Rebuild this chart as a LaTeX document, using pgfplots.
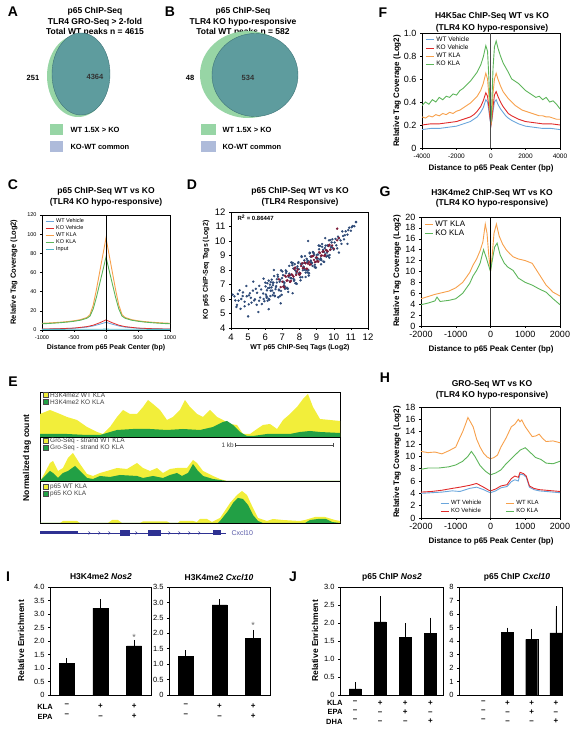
\documentclass[border=0pt]{standalone}
\usepackage{fontspec}
\setmainfont{Liberation Sans}
\usepackage{pgfplots}
\pgfplotsset{compat=1.18}
\definecolor{wtveh}{HTML}{6AA6DC}
\definecolor{koveh}{HTML}{E02A2A}
\definecolor{wtkla}{HTML}{F7A04B}
\definecolor{kokla}{HTML}{5DB55A}
\definecolor{inputc}{HTML}{4FB8C9}
\definecolor{vgreen}{HTML}{97D5A5}
\definecolor{vteal}{HTML}{5E9C9E}
\definecolor{vedge}{HTML}{3F7478}
\definecolor{vblue}{HTML}{AEBBDA}
\definecolor{eyel}{HTML}{F2EE3A}
\definecolor{egrn}{HTML}{22A045}
\definecolor{gene}{HTML}{2E3192}
\definecolor{scblue}{HTML}{2F4B78}
\definecolor{scred}{HTML}{7E1D3A}
\newcommand\fs[1]{\fontsize{#1}{#1}\selectfont}
\newcommand\tfs{\fontsize{8.5}{10.5}\selectfont\bfseries}
\pgfplotsset{
  every axis/.append style={scale only axis, anchor=south west,
    axis line style={line width=0.7pt}, tick style={black, line width=0.5pt},
    /pgf/number format/assume math mode=true, /pgf/number format/1000 sep={},
    tick align=outside, xtick pos=bottom, ytick pos=left, major tick length=2pt},
  lgd/.style={legend image code/.code={\draw[##1] (0pt,0pt) -- (8pt,0pt);}},
}
\begin{document}
\begin{tikzpicture}[x=1pt,y=1pt]
\useasboundingbox (0,0) rectangle (580,736);
% ===== A =====
\node[font=\fs{14}\bfseries] at (13,724) {A};
\node[font=\tfs, align=center] at (95,714) {p65 ChIP-Seq\\TLR4 GRO-Seq > 2-fold\\Total WT peaks n = 4615};
\fill[vgreen] (78,660) ellipse (31 and 41);
\fill[vteal, draw=vedge, line width=0.4pt] (81,662) ellipse (29 and 41);
\node[font=\fs{7.5}\bfseries] at (33,658) {251};
\node[font=\fs{7.5}\bfseries, text=black!80] at (95,659) {4364};
\fill[vgreen] (50,601) rectangle (63,612);
\node[font=\fs{7.5}\bfseries, anchor=west] at (67,606) {WT 1.5X > KO};
\fill[vblue] (50,584) rectangle (63,595);
\node[font=\fs{7.5}\bfseries, anchor=west] at (67,589) {KO-WT common};
% ===== B =====
\node[font=\fs{14}\bfseries] at (170,724) {B};
\node[font=\tfs, align=center] at (243,714) {p65 ChIP-Seq\\TLR4 KO hypo-responsive\\Total WT peaks n = 582};
\fill[vgreen] (248,661.5) ellipse (48 and 43.5);
\fill[vteal, draw=vedge, line width=0.4pt] (255,661) ellipse (43 and 41.5);
\node[font=\fs{7.5}\bfseries] at (190,658) {48};
\node[font=\fs{7.5}\bfseries, text=black!80] at (248,658) {534};
\fill[vgreen] (201,601) rectangle (216,612);
\node[font=\fs{7.5}\bfseries, anchor=west] at (219,606) {WT 1.5X > KO};
\fill[vblue] (201,584) rectangle (216,595);
\node[font=\fs{7.5}\bfseries, anchor=west] at (219,589) {KO-WT common};
% ===== C =====
\node[font=\fs{14}\bfseries] at (13,551) {C};
\node[font=\tfs, align=center] at (106,539) {p65 ChIP-Seq WT vs KO\\(TLR4 KO hypo-responsive)};
\node[font=\fs{7.5}\bfseries, rotate=90] at (14,464) {Relative Tag Coverage (Log2)};
\node[font=\fs{7}\bfseries] at (106,388) {Distance from p65 Peak Center (bp)};
\begin{axis}[at={(42pt,406pt)}, width=128pt, height=115pt, xmin=-1000, xmax=1000, ymin=0, ymax=120,
  xtick={-1000,-500,0,500,1000}, ytick={0,20,...,120}, tick label style={font=\fs{5.5}},
  lgd, legend style={draw=none, fill=none, font=\fs{5.5}, at={(0.02,0.99)}, anchor=north west, row sep=-2.5pt, inner sep=0.5pt}, legend cell align=left]
\addplot[wtveh, line width=0.8pt] coordinates {(-1000,1)(-750,1.2)(-500,1.8)(-300,3)(-200,4.2)(-100,6)(0,8)(100,6)(200,4.2)(300,3)(500,1.8)(750,1.2)(1000,1)};
\addlegendentry{WT Vehicle}
\addplot[koveh, line width=0.8pt] coordinates {(-1000,1)(-750,1.3)(-500,2)(-300,3.5)(-200,5)(-100,7.5)(0,10.5)(100,7.5)(200,5)(300,3.5)(500,2)(750,1.3)(1000,1)};
\addlegendentry{KO Vehicle}
\addplot[wtkla, line width=0.9pt] coordinates {(-1000,7)(-900,7.3)(-800,7.7)(-700,8.2)(-600,8.8)(-500,9.6)(-400,10.8)(-300,13)(-250,16)(-200,26)(-150,42)(-100,60)(-50,78)(0,96)(50,78)(100,60)(150,42)(200,26)(250,16)(300,13)(400,10.8)(500,9.6)(600,8.8)(700,8.2)(800,7.7)(900,7.3)(1000,7)};
\addlegendentry{WT KLA}
\addplot[kokla, line width=0.9pt] coordinates {(-1000,6.5)(-900,6.8)(-800,7.2)(-700,7.7)(-600,8.3)(-500,9.1)(-400,10.2)(-300,12.2)(-250,14.5)(-200,22)(-150,34)(-100,48)(-50,62)(0,76)(50,62)(100,48)(150,34)(200,22)(250,14.5)(300,12.2)(400,10.2)(500,9.1)(600,8.3)(700,7.7)(800,7.2)(900,6.8)(1000,6.5)};
\addlegendentry{KO KLA}
\addplot[inputc, line width=0.8pt] coordinates {(-1000,0.6)(-500,0.7)(0,0.9)(500,0.7)(1000,0.6)};
\addlegendentry{Input}
\addplot[black, line width=0.7pt, forget plot] coordinates {(0,0)(0,120)};
\end{axis}
% ===== D =====
\node[font=\fs{14}\bfseries] at (192,551) {D};
\node[font=\tfs, align=center] at (300,539) {p65 ChIP-Seq WT vs KO\\(TLR4 Responsive)};
\node[font=\fs{7}\bfseries, rotate=90] at (206,466) {KO p65 ChIP-Seq Tags (Log2)};
\node[font=\fs{7}\bfseries] at (300,388) {WT p65 ChIP-Seq Tags (Log2)};
\begin{axis}[at={(231pt,408pt)}, width=137pt, height=116pt, xmin=4, xmax=12, ymin=4, ymax=12,
  xtick={4,...,12}, ytick={4,...,12}, tick label style={font=\fs{9.5}}]
\addplot[only marks, mark=*, mark size=1pt, scblue, mark options={fill=scblue, draw=none}] coordinates {
(4.2,6.18)(4.32,5.45)(4.44,5.89)(4.56,5.32)(4.68,6.2)(4.8,5.81)(4.92,6.19)(5.04,5.63)(5.16,6.08)(5.28,6.58)(5.4,5.98)(5.52,6.43)(5.64,5.88)(5.76,6.66)(5.88,6.38)
(5.0,4.8)(4.5,6.6)(5.6,5.1)(4.9,6.9)(6.2,5.3)(6.5,8.0)(10.8,9.8)(9.5,10.2)(11.3,11.3)(5.3,7.2)(4.1,6.3)(5.9,7.4)(6.9,5.7)(7.6,6.4)(8.5,10.0)(10.3,9.2)
(4.6,6.0)(5.1,6.4)(5.5,5.6)(5.7,6.1)(5.95,5.85)(4.4,6.35)(4.8,5.5)(5.35,5.9)
(4.25,5.9)(4.7,6.45)(5.2,5.75)(5.45,6.7)(5.8,5.65)(5.05,6.25)(4.35,5.6)(5.65,6.9)(5.9,6.0)(6.1,6.6)(6.3,6.2)(6.45,6.95)
(10.05,9.9)(10.25,10.3)(10.45,9.8)(10.65,10.4)(10.85,10.75)(11.05,10.95)(10.15,9.7)(10.55,10.35)
(6.00,7.13)(6.08,6.19)(6.16,6.75)(6.24,5.95)(6.32,7.17)(6.40,6.58)(6.48,7.13)(6.56,6.23)(6.64,6.88)(6.72,7.67)(6.80,6.60)(6.88,7.32)(6.96,6.29)(7.04,7.64)(7.12,7.11)(7.20,7.97)(7.28,6.77)(7.36,7.52)(7.44,7.21)(7.52,8.52)(7.60,8.49)(7.68,7.25)(7.76,7.96)(7.84,7.04)(7.92,8.48)(8.00,7.82)(8.08,8.42)(8.16,7.51)(8.24,8.19)(8.32,8.96)(8.40,7.98)(8.48,8.64)(8.56,7.77)(8.64,8.93)(8.72,8.50)(8.80,9.21)(8.88,8.21)(8.96,8.85)(9.04,8.60)(9.12,9.69)(9.20,9.66)(9.28,8.68)(9.36,9.27)(9.44,8.56)(9.52,9.68)(9.60,9.20)(9.68,9.67)(9.76,9.03)(9.84,9.56)(9.92,10.12)
(6.04,6.31)(6.12,7.09)(6.20,6.01)(6.28,6.99)(6.36,6.80)(6.44,6.26)(6.52,7.58)(6.60,6.68)(6.68,7.36)(6.76,6.12)(6.84,7.19)(6.92,6.56)(7.00,7.90)(7.08,7.17)(7.16,6.85)(7.24,7.91)(7.32,6.71)(7.40,7.75)(7.48,7.44)(7.56,8.49)(7.64,7.40)(7.72,8.40)(7.80,7.08)(7.88,8.25)(7.96,8.05)(8.04,7.49)(8.12,8.90)(8.20,7.98)(8.28,8.66)(8.36,7.52)(8.44,8.52)(8.52,7.99)(8.60,9.15)(8.68,8.54)(8.76,8.28)(8.84,9.16)(8.92,8.17)(9.00,9.04)(9.08,8.79)(9.16,9.67)(9.24,8.80)(9.32,9.60)(9.40,8.58)(9.48,9.51)(9.56,9.37)(9.64,8.98)(9.72,10.04)(9.80,9.39)(9.88,9.90)
(6.02,6.87)(6.14,5.88)(6.26,6.78)(6.38,7.34)(6.50,6.42)(6.62,6.83)(6.74,7.54)(6.86,6.20)(6.98,7.44)(7.10,6.94)(7.22,7.79)(7.34,6.49)(7.46,7.65)(7.58,8.33)(7.70,7.31)(7.82,7.79)(7.94,8.54)(8.06,7.29)(8.18,8.45)(8.30,8.02)(8.42,8.77)(8.54,7.62)(8.66,8.65)(8.78,9.24)(8.90,8.36)(9.02,8.78)(9.14,9.43)(9.26,8.39)(9.38,9.39)(9.50,9.08)(9.62,9.70)(9.74,8.85)(9.86,9.66)
(6.08,6.08)(6.20,7.27)(6.32,6.57)(6.44,7.13)(6.56,6.19)(6.68,7.14)(6.80,6.65)(6.92,7.98)(7.04,7.19)(7.16,6.70)(7.28,6.72)(7.40,8.28)(7.52,7.43)(7.64,8.10)(7.76,7.09)(7.88,8.12)(8.00,7.69)(8.12,8.95)(8.24,8.23)(8.36,7.82)(8.48,7.83)(8.60,9.19)(8.72,8.46)(8.84,9.04)(8.96,8.17)(9.08,9.07)(9.20,8.71)(9.32,9.79)(9.44,9.24)(9.56,8.92)(9.68,8.98)(9.80,10.06)(9.92,9.54)
(10.0,9.40)(10.1,10.15)(10.2,9.49)(10.3,10.18)(10.4,10.04)(10.5,10.66)(10.6,10.11)(10.7,10.67)(10.8,10.44)(10.9,10.92)(11.0,10.71)(11.1,11.03)(11.2,11.02)(11.3,11.31)};
\addplot[only marks, mark=*, mark size=1pt, scred, mark options={fill=scred, draw=none}] coordinates {
(6.8,7.36)(6.9,6.82)(7.0,7.19)(7.1,6.79)(7.2,7.54)(7.3,7.28)(7.4,7.63)(7.5,7.25)(7.6,7.64)(7.7,8.07)(7.8,7.66)(7.9,8.03)(8.0,7.67)(8.1,8.28)(8.2,8.12)(8.3,8.51)(8.4,8.09)(8.5,8.44)(8.6,8.37)(8.7,8.93)(8.8,8.97)(8.9,8.54)(9.0,8.87)(9.1,8.57)(9.2,9.18)(9.3,9.00)(9.4,9.29)(9.5,9.03)(9.6,9.34)(9.7,9.66)(9.8,9.41)(9.9,9.69)(10.0,9.48)(10.2,10.05)(10.3,10.21)(10.2,10.85)
(7.05,6.85)(7.15,7.61)(7.25,7.26)(7.35,7.61)(7.45,7.18)(7.55,7.70)(7.65,7.54)(7.75,8.17)(7.85,7.89)(7.95,7.73)(8.05,7.78)(8.15,8.46)(8.25,8.14)(8.35,8.46)(8.45,8.08)(8.55,8.54)(8.65,8.39)(8.75,8.95)(8.85,8.70)(8.95,8.56)(9.05,8.62)(9.15,9.22)(9.25,8.98)(9.35,9.26)(9.45,8.97)(9.55,9.37)(9.65,9.28)(9.75,9.74)};
\end{axis}
\node[font=\fs{6}\bfseries, anchor=west] at (234,518) {R$^{\mathbf{2}}$ = 0.86447};
% ===== E =====
\node[font=\fs{14}\bfseries] at (13,354) {E};
\node[font=\fs{8.5}\bfseries, rotate=90] at (27,278) {Normalized tag count};
\begin{axis}[at={(40pt,299pt)}, width=300pt, height=45pt, xmin=40, xmax=340, ymin=0, ymax=45, xtick=\empty, ytick=\empty, axis line style={line width=0.9pt}]
\addplot[fill=eyel, draw=none] coordinates {(40,23)(50,27)(60,23)(67,20)(77,17)(87,10)(97,5)(103,3)(110,10)(117,20)(123,27)(130,23)(137,23)(143,30)(148,37)(153,33)(160,27)(167,17)(173,20)(180,27)(185,37)(190,30)(197,23)(203,20)(210,27)(217,20)(223,17)(230,13)(237,12)(243,3)(250,3)(257,8)(263,12)(270,13)(277,8)(283,17)(290,23)(297,30)(303,38)(308,43)(313,30)(320,18)(330,17)(340,16)} \closedcycle;
\addplot[fill=egrn, draw=none] coordinates {(40,3)(67,3)(87,2)(100,2)(117,7)(133,8)(150,8)(167,7)(183,8)(200,7)(213,10)(223,15)(227,16)(233,12)(240,5)(247,1)(253,1)(267,3)(280,3)(290,3)(300,5)(310,6)(320,5)(340,4)} \closedcycle;
\end{axis}
\begin{axis}[at={(40pt,255pt)}, width=300pt, height=44pt, xmin=40, xmax=340, ymin=0, ymax=44, xtick=\empty, ytick=\empty, axis line style={line width=0.9pt}]
\addplot[fill=eyel, draw=none] coordinates {(40,0)(42,3)(50,18)(53,20)(58,10)(63,13)(68,23)(73,28)(80,17)(87,7)(93,5)(100,8)(107,10)(117,13)(127,12)(137,18)(143,13)(150,10)(157,13)(163,8)(170,12)(177,13)(187,13)(193,21)(197,18)(203,10)(213,5)(220,2)(227,0)(340,0)} \closedcycle;
\addplot[fill=egrn, draw=none] coordinates {(40,0)(42,2)(50,10)(53,8)(58,3)(63,8)(68,10)(75,15)(80,10)(87,3)(93,2)(100,5)(110,4)(120,6)(137,5)(143,3)(153,5)(163,3)(170,6)(177,8)(182,5)(188,8)(193,17)(198,10)(203,5)(213,2)(220,1)(227,0)(340,0)} \closedcycle;
\end{axis}
\begin{axis}[at={(40pt,213pt)}, width=300pt, height=42pt, xmin=40, xmax=340, ymin=0, ymax=42, xtick=\empty, ytick=\empty, axis line style={line width=0.9pt}]
\addplot[fill=eyel, draw=none] coordinates {(40,0)(60,0)(63,2)(77,2)(80,0)(108,0)(112,3)(118,3)(122,0)(140,0)(143,1.5)(167,1.5)(170,0)(178,0)(180,2)(193,2)(197,1)(200,4)(207,4)(212,1)(220,5)(230,20)(237,28)(242,32)(247,28)(253,15)(258,5)(267,2)(273,4)(283,3)(300,2)(305,3)(315,6)(325,6)(335,3)(340,2)} \closedcycle;
\addplot[fill=egrn, draw=none] coordinates {(40,0)(218,0)(220,2)(228,12)(233,20)(238,25)(243,24)(248,18)(253,8)(258,2)(263,0)(305,0)(310,3)(318,4)(326,4)(332,1)(340,0)} \closedcycle;
\end{axis}
\foreach \yy/\ta/\tb in {341/H3K4me2 WT KLA/H3K4me2 KO KLA, 295/Gro-Seq - strand WT KLA/Gro-Seq - strand KO KLA, 249/p65 WT KLA/p65 KO KLA}{
  \fill[eyel, draw=black!70, line width=0.3pt] (43,\yy-2.5) rectangle (48,\yy+2.5);
  \node[font=\fs{6.5}, anchor=west, text=black!75, inner sep=1pt] at (49,\yy) {\ta};
  \fill[egrn, draw=black!70, line width=0.3pt] (43,\yy-9.5) rectangle (48,\yy-4.5);
  \node[font=\fs{6.5}, anchor=west, text=black!75, inner sep=1pt] at (49,\yy-7) {\tb};
}
\node[font=\fs{6.5}, anchor=east, text=black!75, inner sep=1pt] at (235,291) {1 kb};
\draw[black!70, line width=0.5pt] (235,291) -- (333,291);
\draw[black!70, line width=0.5pt] (235,289) -- (235,293) (333,289) -- (333,293);
\draw[gene, line width=0.5pt] (40,203) -- (226,203);
\foreach \xx in {90,100,110,137,170,180,190,200}{\draw[gene, line width=0.4pt] (\xx-1.5,204.5) -- (\xx,203) -- (\xx-1.5,201.5);}
\fill[gene] (40,201.5) rectangle (78,204.5);
\fill[gene] (120,200) rectangle (130,206);
\fill[gene] (148,200) rectangle (161,206);
\fill[gene] (213,200.5) rectangle (221,205.5);
\node[font=\fs{7}, anchor=west, text=gene!80] at (228,203) {Cxcl10};
% ===== F =====
\node[font=\fs{14}\bfseries] at (383,723) {F};
\node[font=\fontsize{8.5}{12.5}\selectfont\bfseries, align=center] at (492,713.5) {H4K5ac ChIP-Seq WT vs KO\\(TLR4 KO hypo-responsive)};
\node[font=\fs{8}\bfseries, rotate=90] at (397,645) {Relative Tag Coverage (Log2)};
\node[font=\fs{8}\bfseries] at (491,568) {Distance to p65 Peak Center (bp)};
\begin{axis}[at={(422pt,588pt)}, width=138pt, height=115pt, xmin=-4000, xmax=4000, ymin=0, ymax=1,
  xtick={-4000,-2000,0,2000,4000}, ytick={0,0.2,...,1.0}, yticklabels={0,0.2,0.4,0.6,0.8,1.0},
  xticklabel style={font=\fs{6.5}}, yticklabel style={font=\fs{9}},
  lgd, legend style={draw=none, fill=none, font=\fs{6.5}, at={(0.02,0.99)}, anchor=north west, row sep=-2pt, inner sep=0.5pt}, legend cell align=left]
\addplot[wtveh, line width=0.9pt] coordinates {(-4000,0.16)(-3500,0.17)(-3000,0.17)(-2500,0.18)(-2000,0.19)(-1600,0.21)(-1200,0.23)(-1000,0.25)(-800,0.27)(-600,0.31)(-450,0.35)(-300,0.42)(-200,0.40)(-120,0.32)(-50,0.24)(0,0.2)(50,0.24)(120,0.32)(200,0.40)(300,0.42)(400,0.38)(550,0.34)(700,0.31)(850,0.28)(1000,0.26)(1200,0.24)(1600,0.21)(2000,0.19)(2500,0.18)(3000,0.17)(3500,0.17)(4000,0.16)};
\addlegendentry{WT Vehicle}
\addplot[koveh, line width=0.9pt] coordinates {(-4000,0.20)(-3500,0.21)(-3000,0.21)(-2500,0.22)(-2000,0.23)(-1600,0.25)(-1200,0.27)(-1000,0.29)(-800,0.32)(-600,0.36)(-450,0.41)(-300,0.48)(-200,0.45)(-120,0.35)(-50,0.25)(0,0.2)(50,0.25)(120,0.36)(200,0.46)(300,0.49)(400,0.45)(550,0.40)(700,0.36)(850,0.33)(1000,0.30)(1200,0.28)(1600,0.25)(2000,0.23)(2500,0.22)(3000,0.21)(3500,0.21)(4000,0.20)};
\addlegendentry{KO Vehicle}
\addplot[wtkla, line width=0.9pt] coordinates {(-4000,0.27)(-3800,0.26)(-3600,0.28)(-3400,0.27)(-3200,0.29)(-3000,0.28)(-2800,0.30)(-2600,0.29)(-2400,0.31)(-2200,0.30)(-2000,0.32)(-1800,0.33)(-1600,0.35)(-1400,0.37)(-1200,0.39)(-1000,0.42)(-800,0.45)(-600,0.50)(-450,0.56)(-300,0.65)(-200,0.60)(-120,0.45)(-50,0.3)(0,0.2)(50,0.3)(120,0.48)(200,0.6)(300,0.65)(400,0.60)(550,0.54)(700,0.49)(850,0.46)(1000,0.43)(1200,0.40)(1400,0.37)(1600,0.35)(1800,0.33)(2000,0.32)(2200,0.31)(2400,0.30)(2600,0.29)(2800,0.28)(3000,0.28)(3200,0.27)(3400,0.27)(3600,0.26)(3800,0.25)(4000,0.25)};
\addlegendentry{WT KLA}
\addplot[kokla, line width=0.9pt] coordinates {(-4000,0.37)(-3800,0.40)(-3600,0.38)(-3400,0.42)(-3200,0.40)(-3000,0.44)(-2800,0.42)(-2600,0.45)(-2400,0.44)(-2200,0.47)(-2000,0.46)(-1800,0.50)(-1600,0.52)(-1400,0.55)(-1200,0.58)(-1000,0.62)(-800,0.66)(-600,0.72)(-450,0.79)(-300,0.89)(-200,0.84)(-120,0.6)(-50,0.35)(0,0.22)(50,0.4)(120,0.7)(200,0.88)(300,0.93)(400,0.87)(550,0.80)(700,0.74)(850,0.70)(1000,0.66)(1200,0.60)(1400,0.58)(1600,0.56)(1800,0.53)(2000,0.50)(2200,0.48)(2400,0.46)(2600,0.44)(2800,0.45)(3000,0.42)(3200,0.44)(3400,0.40)(3600,0.41)(3800,0.38)(4000,0.34)};
\addlegendentry{KO KLA}
\addplot[black!70, line width=1pt, forget plot] coordinates {(0,0)(0,1)};
\end{axis}
% ===== G =====
\node[font=\fs{14}\bfseries] at (385,544) {G};
\node[font=\tfs, align=center] at (492,537.5) {H3K4me2 ChIP-Seq WT vs KO\\(TLR4 KO hypo-responsive)};
\node[font=\fs{8}\bfseries, rotate=90] at (397,465) {Relative Tag Coverage (Log2)};
\node[font=\fs{8}\bfseries] at (491,387) {Distance to p65 Peak Center (bp)};
\begin{axis}[at={(421pt,410pt)}, width=139pt, height=109pt, xmin=-2000, xmax=2000, ymin=0, ymax=20,
  xtick={-2000,-1000,0,1000,2000}, ytick={0,2,...,20}, tick label style={font=\fs{9}},
  lgd, legend style={draw=none, fill=none, font=\fs{8}, at={(0.02,0.99)}, anchor=north west, row sep=-2pt, inner sep=0.5pt}, legend cell align=left]
\addplot[wtkla, line width=0.9pt] coordinates {(-2000,5.0)(-1800,5.4)(-1600,5.8)(-1400,6.1)(-1200,6.4)(-1000,7.0)(-800,8.0)(-600,9.8)(-500,11.2)(-400,12.3)(-300,13.8)(-220,15.4)(-150,18.7)(-100,17.0)(-50,13.0)(0,10.0)(50,13.0)(100,17.0)(170,18.7)(250,16.5)(350,15.0)(450,14.0)(550,13.3)(650,12.7)(800,12.3)(1000,12.0)(1200,11.5)(1400,9.5)(1600,7.5)(1800,6.2)(2000,5.5)};
\addlegendentry{WT KLA}
\addplot[kokla, line width=0.9pt] coordinates {(-2000,3.9)(-1800,4.2)(-1600,4.6)(-1540,5.3)(-1450,4.5)(-1200,4.7)(-1000,5.0)(-800,6.0)(-600,7.8)(-500,9.2)(-400,10.2)(-300,11.5)(-200,14.0)(-120,12.5)(-50,11.0)(0,10.0)(50,12.0)(120,14.5)(190,15.2)(280,13.0)(400,11.5)(500,10.8)(650,10.2)(800,8.8)(1000,8.0)(1200,7.5)(1400,6.8)(1600,6.2)(1800,5.0)(2000,3.9)};
\addlegendentry{KO KLA}
\addplot[black, line width=0.8pt, forget plot] coordinates {(0,0)(0,20)};
\end{axis}
% ===== H =====
\node[font=\fs{14}\bfseries] at (385,358) {H};
\node[font=\tfs, align=center] at (492,346) {GRO-Seq WT vs KO\\(TLR4 KO hypo-responsive)};
\node[font=\fs{8}\bfseries, rotate=90] at (397,274) {Relative Tag Coverage (Log2)};
\node[font=\fs{8}\bfseries] at (491,195) {Distance to p65 Peak Center (bp)};
\begin{axis}[at={(421pt,218pt)}, width=139pt, height=111pt, xmin=-2000, xmax=2000, ymin=0, ymax=18,
  xtick={-2000,-1000,0,1000,2000}, ytick={0,2,...,18}, tick label style={font=\fs{9}},
  lgd, legend columns=2, legend style={draw=none, fill=none, font=\fs{6}, at={(0.5,0.01)}, anchor=south, row sep=-2pt, inner sep=0.5pt, /tikz/every even column/.append style={column sep=22pt}}, legend cell align=left]
\addplot[wtveh, line width=0.9pt] coordinates {(-2000,4.0)(-1700,4.1)(-1400,4.2)(-1100,4.4)(-880,4.3)(-600,4.8)(-400,5.0)(-200,4.6)(-50,4.2)(0,4.1)(150,4.4)(300,4.9)(475,5.1)(600,5.9)(700,6.2)(800,6.0)(850,7.1)(950,7.0)(1030,6.6)(1120,5.0)(1250,4.6)(1400,4.4)(1600,4.3)(1800,4.2)(2000,4.1)};
\addlegendentry{WT Vehicle}
\addplot[wtkla, line width=0.9pt] coordinates {(-2000,10.8)(-1800,10.6)(-1600,10.7)(-1400,10.4)(-1200,10.9)(-1000,11.5)(-900,12.8)(-800,14.0)(-700,15.5)(-650,16.3)(-600,15.8)(-500,14.8)(-400,12.8)(-300,11.5)(-200,10.5)(-100,9.9)(0,9.6)(100,9.8)(200,10.2)(300,11.5)(450,13.0)(600,14.8)(700,15.2)(800,16.0)(850,15.6)(900,15.9)(1000,14.8)(1100,14.0)(1200,13.2)(1300,13.3)(1400,13.6)(1500,12.9)(1600,12.4)(1800,12.5)(2000,12.2)};
\addlegendentry{WT KLA}
\addplot[koveh, line width=0.9pt] coordinates {(-2000,4.2)(-1700,4.3)(-1400,4.5)(-1100,4.8)(-880,5.0)(-600,5.3)(-400,5.6)(-200,5.0)(-50,4.5)(0,4.4)(150,4.7)(300,5.2)(475,5.4)(600,6.4)(700,6.8)(800,6.6)(850,7.4)(950,7.2)(1030,6.8)(1120,5.2)(1250,4.8)(1400,4.6)(1600,4.5)(1800,4.4)(2000,4.3)};
\addlegendentry{KO Vehicle}
\addplot[kokla, line width=0.9pt] coordinates {(-2000,7.9)(-1800,8.1)(-1500,8.1)(-1200,8.3)(-1000,8.6)(-800,9.2)(-650,10.0)(-550,10.8)(-450,10.0)(-300,8.5)(-150,7.6)(0,7.0)(150,7.3)(300,7.8)(450,8.8)(650,9.9)(850,11.0)(1000,11.4)(1150,10.6)(1300,9.8)(1450,9.5)(1600,8.9)(1800,8.8)(2000,9.2)};
\addlegendentry{KO KLA}
\addplot[black!70, line width=0.8pt, forget plot] coordinates {(0,0)(0,18)};
\end{axis}
% ===== I =====
\node[font=\fs{14}\bfseries] at (8,159) {I};
\node[font=\fs{8.5}\bfseries] at (101,159) {H3K4me2 \textit{Nos2}};
\node[font=\fs{8.5}\bfseries] at (219,159) {H3K4me2 \textit{Cxcl10}};
\node[font=\fs{8.5}\bfseries, rotate=90] at (21,95) {Relative Enrichment};
\node[font=\fs{7.5}\bfseries] at (45,29) {KLA};
\node[font=\fs{7.5}\bfseries] at (45,19) {EPA};
\pgfplotsset{barax/.style={xmin=0.5, xmax=3.5, xtick={1,2,3}, major x tick style={draw=none},
  ytick pos=left, yticklabel style={font=\fs{7.5}},
  xticklabels={{\textendash\\\textendash},{+\\\textendash},{+\\+}},
  xticklabel style={align=center, font=\fontsize{8}{10}\selectfont\bfseries, yshift=-3pt}},
  barplot/.style={ybar, bar width=#1, fill=black, draw=black, error bars/.cd, y dir=plus, y explicit, error bar style={black, line width=0.8pt}, error mark options={black, line width=0.8pt, mark size=2.5pt}}}
\begin{axis}[at={(50pt,41pt)}, width=101pt, height=108pt, barax, ymin=0, ymax=4, ytick={0,0.5,...,4}, yticklabels={0,0.5,1.0,1.5,2.0,2.5,3.0,3.5,4.0}]
\addplot[barplot=15pt] coordinates {(1,1.17) +- (0,0.1) (2,3.22) +- (0,0.24) (3,1.82) +- (0,0.13)};
\node[font=\fs{9}, text=black!60] at (axis cs:3,2.12) {*};
\end{axis}
\begin{axis}[at={(169pt,41pt)}, width=101pt, height=108pt, barax, ymin=0, ymax=3.5, ytick={0,0.5,...,3.5}, yticklabels={0,0.5,1.0,1.5,2.0,2.5,3.0,3.5}]
\addplot[barplot=15pt] coordinates {(1,1.25) +- (0,0.12) (2,2.92) +- (0,0.1) (3,1.83) +- (0,0.2)};
\node[font=\fs{9}, text=black!60] at (axis cs:3,2.26) {*};
\end{axis}
% ===== J =====
\node[font=\fs{14}\bfseries] at (293,159) {J};
\node[font=\fs{8.5}\bfseries] at (392,159) {p65 ChIP \textit{Nos2}};
\node[font=\fs{8.5}\bfseries] at (517,159) {p65 ChIP \textit{Cxcl10}};
\node[font=\fs{8.5}\bfseries, rotate=90] at (315,95) {Relative Enrichment};
\node[font=\fs{7.5}\bfseries, anchor=east] at (346,33) {KLA};
\node[font=\fs{7.5}\bfseries, anchor=east] at (346,24) {EPA};
\node[font=\fs{7.5}\bfseries, anchor=east] at (346,14.5) {DHA};
\pgfplotsset{barj/.style={xtick={1,2,3,4}, major x tick style={draw=none},
  ytick pos=left, yticklabel style={font=\fs{7.5}},
  xticklabels={{\textendash\\\textendash\\\textendash},{+\\\textendash\\\textendash},{+\\+\\\textendash},{+\\\textendash\\+}},
  xticklabel style={align=center, font=\fontsize{8}{9.3}\selectfont\bfseries, yshift=0pt}}}
\begin{axis}[at={(340pt,41pt)}, width=103pt, height=108pt, barj, xmin=0.4, xmax=4.5, ymin=0, ymax=3, ytick={0,0.5,...,3}, yticklabels={0,0.5,1.0,1.5,2.0,2.5,3.0}]
\addplot[barplot=12pt] coordinates {(1,0.17) +- (0,0.12) (2,2.03) +- (0,0.65) (3,1.6) +- (0,0.33) (4,1.72) +- (0,0.36)};
\end{axis}
\begin{axis}[at={(459pt,41pt)}, width=103pt, height=108pt, barj, xmin=0.0, xmax=4.25, ymin=0, ymax=8, ytick={0,1,...,8}]
\addplot[barplot=12pt] coordinates {(2,4.65) +- (0,0.15) (3,4.12) +- (0,0.6) (4,4.6) +- (0,1.8)};
\end{axis}
\end{tikzpicture}
\end{document}
